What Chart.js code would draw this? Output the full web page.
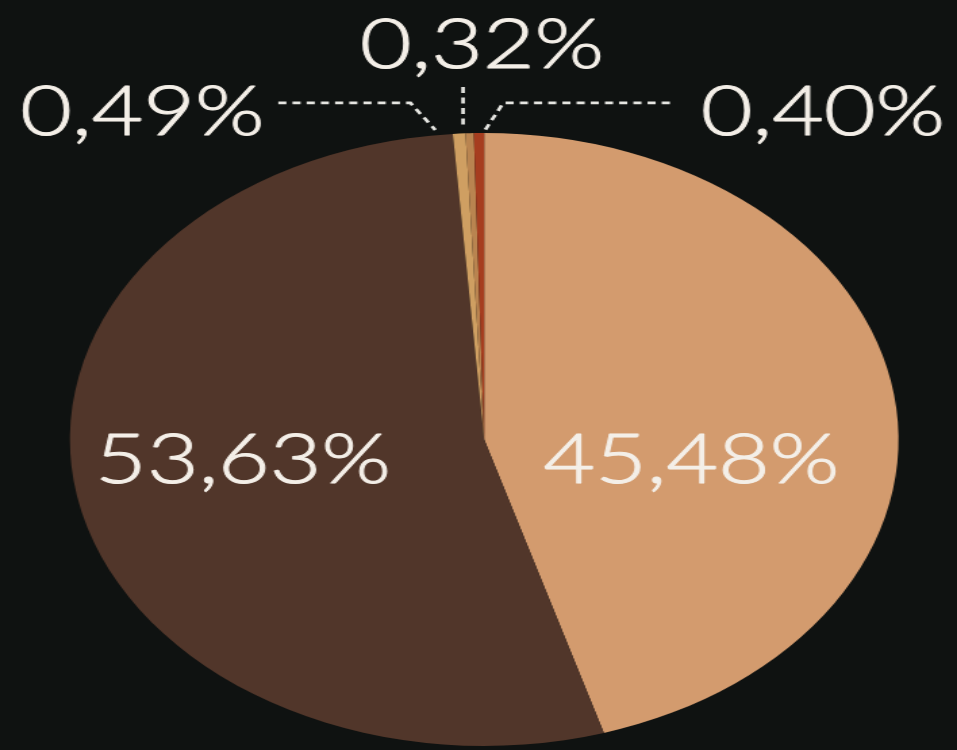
<!DOCTYPE html>
<html>
<head>
<meta charset="utf-8">
<script src="https://cdn.jsdelivr.net/npm/chart.js@4"></script>
<style>
html,body{margin:0;padding:0;background:#0f1211;overflow:hidden;width:957px;height:750px}
canvas{display:block}
</style>
</head>
<body>
<canvas id="c" width="708" height="750" style="width:957px;height:750px"></canvas>
<script>
// ---- data ----
const categories = ['Segmento 1', 'Segmento 2', 'Segmento 3', 'Segmento 4', 'Segmento 5'];
const values = [45.48, 53.63, 0.49, 0.32, 0.40];
const sliceColors = ['#d39b6e', '#51362a', '#cf9f62', '#b98450', '#a63d1f'];
const valueLabels = values.map(v => v.toFixed(2).replace('.', ',') + '%');

// ---- label placement (style, relative to pie centre, in radius units) ----
const labelLayout = [
  { dx: 0.50, dy: 0.142 },
  { dx: -0.582, dy: 0.142 },
  { dx: -0.825, dy: -0.994 },
  { dx: -0.005, dy: -1.212 },
  { dx: 0.818, dy: -0.994 }
];
const leaderLines = [
  [[-0.497, -1.098], [-0.178, -1.098], [-0.118, -1.010]],
  [[-0.051, -1.150], [-0.051, -1.018]],
  [[0.003, -1.011], [0.046, -1.098], [0.461, -1.098]]
];

const labelPlugin = {
  id: 'pctLabels',
  beforeDraw(chart) {
    const ctx = chart.ctx;
    ctx.save();
    ctx.fillStyle = '#0f1211';
    ctx.fillRect(0, 0, chart.width, chart.height);
    ctx.restore();
  },
  afterDatasetsDraw(chart) {
    const ctx = chart.ctx;
    const arc = chart.getDatasetMeta(0).data[0];
    const cx = arc.x, cy = arc.y, R = arc.outerRadius;
    ctx.save();
    // leader lines
    ctx.strokeStyle = '#e6e6e2';
    ctx.lineWidth = 2.7;
    ctx.setLineDash([6, 4.5]);
    leaderLines.forEach(pts => {
      ctx.beginPath();
      pts.forEach((p, i) => {
        const x = cx + p[0] * R, y = cy + p[1] * R;
        if (i === 0) ctx.moveTo(x, y); else ctx.lineTo(x, y);
      });
      ctx.stroke();
    });
    ctx.setLineDash([]);
    // labels
    ctx.fillStyle = '#f4efe8';
    ctx.strokeStyle = '#f4efe8';
    ctx.lineWidth = 1.1;
    ctx.lineJoin = 'round';
    ctx.font = '300 68px Lato';
    ctx.textAlign = 'center';
    ctx.textBaseline = 'alphabetic';
    valueLabels.forEach((t, i) => {
      const L = labelLayout[i];
      ctx.save();
      ctx.translate(cx + L.dx * R, cy + L.dy * R);
      ctx.scale(0.97, 1);
      ctx.fillText(t, 0, 0);
      ctx.strokeText(t, 0, 0);
      ctx.restore();
    });
    ctx.restore();
  }
};

new Chart(document.getElementById('c'), {
  type: 'pie',
  data: {
    labels: categories,
    datasets: [{
      data: values,
      backgroundColor: sliceColors,
      borderWidth: 0
    }]
  },
  options: {
    responsive: false,
    animation: false,
    layout: { padding: { left: 51.7, right: 43.3, top: 133, bottom: 4 } },
    plugins: {
      legend: { display: false },
      tooltip: { enabled: false }
    }
  },
  plugins: [labelPlugin]
});
</script>
</body>
</html>
